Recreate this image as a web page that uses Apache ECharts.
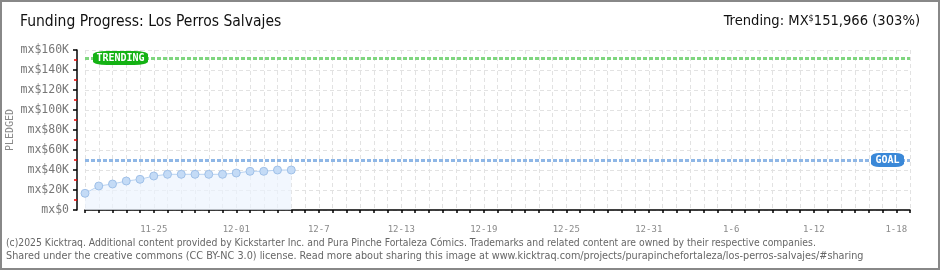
<!DOCTYPE html>
<html><head><meta charset="utf-8">
<script src="https://cdn.jsdelivr.net/npm/echarts@6/dist/echarts.min.js"></script>
<style>html,body{margin:0;padding:0;background:#fff}#c{width:940px;height:270px}</style>
</head><body><div id="c"></div>
<script>
const categories = [
  "11-20","11-21","11-22","11-23","11-24","11-25","11-26","11-27","11-28","11-29","11-30",
  "12-1","12-2","12-3","12-4","12-5","12-6","12-7","12-8","12-9","12-10","12-11","12-12","12-13","12-14","12-15",
  "12-16","12-17","12-18","12-19","12-20","12-21","12-22","12-23","12-24","12-25","12-26","12-27","12-28","12-29","12-30","12-31",
  "1-1","1-2","1-3","1-4","1-5","1-6","1-7","1-8","1-9","1-10","1-11","1-12","1-13","1-14","1-15","1-16","1-17","1-18","1-19"
];
const pledged = [16700, 24000, 26000, 29000, 30700, 34000, 35700, 35700, 35700, 35700, 35700, 37000, 38700, 38700, 40000, 40000];
const goal = 50000;
const trending = 151966;
const trendingPct = 303;
const tickDays   = ["11-25","12-1","12-7","12-13","12-19","12-25","12-31","1-6","1-12","1-18"];
const tickLabels = ["11-25","12-01","12-7","12-13","12-19","12-25","12-31","1-6","1-12","1-18"];

const MONO = '"DejaVu Sans Mono", monospace';
const NARROW = '"DejaVu Sans Condensed", sans-serif';

const chart = echarts.init(document.getElementById('c'), null, {renderer:'canvas'});
chart.setOption({
  animation: false,
  grid: {left: 85, right: 30, top: 50, bottom: 60, containLabel: false, outerBoundsMode: 'none'},
  xAxis: {
    type: 'category', data: categories, boundaryGap: false, offset: 10,
    axisLine: {lineStyle: {color: '#000', width: 1.5}},
    axisTick: {show: true, interval: 0, length: 3, lineStyle: {color: '#000', width: 1.5}},
    axisLabel: {
      interval: 0, margin: 5, color: '#8a8a8a', fontFamily: MONO, fontSize: 9,
      formatter: (v) => { const i = tickDays.indexOf(v); return i >= 0 ? tickLabels[i] : ''; }
    },
    splitLine: {show: true, interval: 0, lineStyle: {color: '#e2e2e2', type: [4, 3], width: 1}}
  },
  yAxis: {
    type: 'value', min: 0, max: 160000, interval: 20000, offset: 8,
    name: 'PLEDGED', nameLocation: 'middle', nameGap: 62, nameRotate: 90, nameMoveOverlap: false,
    nameTextStyle: {color: '#888', fontFamily: MONO, fontSize: 10},
    axisLine: {show: true, lineStyle: {color: '#000', width: 1.5}},
    axisTick: {show: true, length: 4, lineStyle: {color: '#000', width: 1.5}},
    minorTick: {show: true, splitNumber: 2, length: 3, lineStyle: {color: '#e00', width: 1.5}},
    axisLabel: {
      margin: 8, color: '#777', fontFamily: MONO, fontSize: 11.5,
      formatter: (v) => v === 0 ? 'mx$0' : 'mx$' + (v / 1000) + 'K'
    },
    splitLine: {show: true, lineStyle: {color: '#e2e2e2', type: [4, 3], width: 1}}
  },
  series: [{
    type: 'line', data: pledged,
    symbol: 'circle', symbolSize: 8,
    itemStyle: {color: '#c4dbf6', borderColor: '#9fc0e8', borderWidth: 1},
    lineStyle: {color: '#b8d2f0', width: 1},
    areaStyle: {color: '#edf4fd'},
    markLine: {
      silent: true, symbol: 'none', label: {show: false},
      data: [
        {yAxis: trending, lineStyle: {color: '#7fd67f', type: [4, 2], width: 3}},
        {yAxis: goal, lineStyle: {color: '#8fb7e6', type: [4, 2], width: 3}}
      ]
    },
    markPoint: {
      silent: true,
      data: [
        {coord: [categories[0], trending], symbol: 'roundRect', symbolSize: [55, 14], symbolOffset: [35.5, 0],
          itemStyle: {color: '#14b214'},
          label: {show: true, formatter: 'TRENDING', color: '#fff', fontFamily: MONO, fontSize: 10, fontWeight: 'bold'}},
        {coord: [categories[categories.length - 1], goal], symbol: 'roundRect', symbolSize: [33, 14], symbolOffset: [-22.5, 0],
          itemStyle: {color: '#3a88d8'},
          label: {show: true, formatter: 'GOAL', color: '#fff', fontFamily: MONO, fontSize: 10, fontWeight: 'bold'}}
      ]
    }
  }],
  graphic: [
    {type: 'rect', shape: {x: 1, y: 1, width: 938, height: 268}, style: {fill: 'none', stroke: '#888', lineWidth: 2}, silent: true},
    {type: 'text', left: 20, top: 14, style: {text: 'Funding Progress: Los Perros Salvajes', font: '15.5px ' + NARROW, fill: '#111'}},
    {type: 'text', right: 20, top: 14, style: {
      text: 'Trending: MX{s|$}' + trending.toLocaleString('en-US') + ' (' + trendingPct + '%)',
      font: '14.6px ' + NARROW, fill: '#111',
      rich: {s: {fontSize: 9, verticalAlign: 'top', fontFamily: NARROW, fill: '#111'}}
    }},
    {type: 'text', left: 6, top: 238, style: {
      text: '(c)2025 Kicktraq. Additional content provided by Kickstarter Inc. and Pura Pinche Fortaleza Cómics. Trademarks and related content are owned by their respective companies.',
      font: '10.3px ' + NARROW, fill: '#666'}},
    {type: 'text', left: 6, top: 251, style: {
      text: 'Shared under the creative commons (CC BY-NC 3.0) license. Read more about sharing this image at www.kicktraq.com/projects/purapinchefortaleza/los-perros-salvajes/#sharing',
      font: '10.75px ' + NARROW, fill: '#666'}}
  ]
});
</script></body></html>
